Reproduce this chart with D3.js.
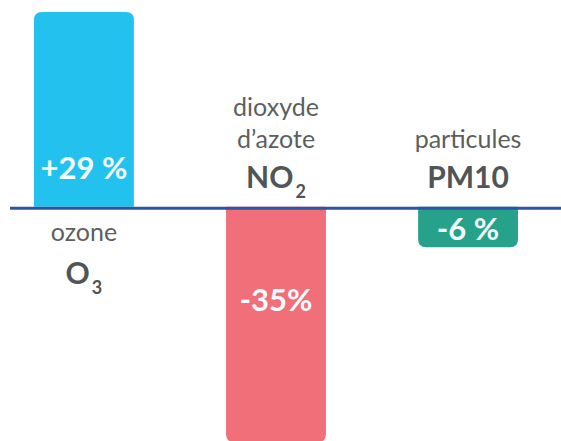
<!DOCTYPE html>
<html>
<head>
<meta charset="utf-8">
<script src="https://cdn.jsdelivr.net/npm/d3@7"></script>
<style>
  body { margin: 0; background: #fff; }
  svg { display: block; font-family: Lato, "Open Sans", sans-serif; }
</style>
</head>
<body>
<div id="chart"></div>
<script>
// Évolution des concentrations de polluants
const polluants = ["O3", "NO2", "PM10"];
const noms = [["ozone"], ["dioxyde", "d\u2019azote"], ["particules"]];
const formules = ["O", "NO", "PM10"];
const indices = ["3", "2", ""];
const variations = [29, -35, -6];
const etiquettes = ["+29 %", "-35%", "-6 %"];
const couleurs = ["#23c1ee", "#f16f78", "#27a28a"];

const width = 561, height = 441;
const r = 8;

let svg = d3.select("#chart").append("svg")
  .attr("width", width)
  .attr("height", height);

let x = d3.scaleBand()
  .domain(polluants)
  .range([-14, 566])
  .paddingInner(0.48)
  .paddingOuter(0.25);

let y = d3.scaleLinear()
  .domain([-35, 29])
  .range([442, 12]);

const y0 = y(0);

// bar with rounded corners only at the free end
function barPath(d, i) {
  let x0 = x(polluants[i]), w = x.bandwidth();
  let yv = y(d);
  if (d >= 0) {
    return `M${x0},${y0} V${yv + r} Q${x0},${yv} ${x0 + r},${yv} H${x0 + w - r} Q${x0 + w},${yv} ${x0 + w},${yv + r} V${y0} Z`;
  }
  return `M${x0},${y0} V${yv - r} Q${x0},${yv} ${x0 + r},${yv} H${x0 + w - r} Q${x0 + w},${yv} ${x0 + w},${yv - r} V${y0} Z`;
}

svg.append("g").selectAll("path")
  .data(variations)
  .enter().append("path")
  .attr("d", barPath)
  .attr("fill", (d, i) => couleurs[i]);

// axe zéro
svg.append("line")
  .attr("x1", 10).attr("x2", width)
  .attr("y1", y0 + 1.5).attr("y2", y0 + 1.5)
  .attr("stroke", "#2c55a4")
  .attr("stroke-width", 3);

// valeurs dans les barres
svg.append("g").selectAll("text")
  .data(variations)
  .enter().append("text")
  .attr("x", (d, i) => x(polluants[i]) + x.bandwidth() / 2)
  .attr("y", d => d >= 0 ? y0 - 28 : Math.min(y0 + 104, y(d) - 7))
  .attr("text-anchor", "middle")
  .attr("fill", "#f2fbfd")
  .style("font-size", "31px")
  .style("font-weight", 700)
  .text((d, i) => etiquettes[i]);

// noms des polluants
polluants.forEach((p, i) => {
  let cx = x(p) + x.bandwidth() / 2;
  let positif = variations[i] >= 0;
  let lignes = noms[i];
  let g = svg.append("g").attr("text-anchor", "middle");

  let yForm = positif ? y0 + 77 : y0 - 19;
  let yNom = positif ? y0 + 34 : y0 - 59;

  lignes.forEach((l, j) => {
    g.append("text")
      .attr("x", cx)
      .attr("y", yNom - (lignes.length - 1 - j) * 32)
      .attr("fill", "#5b5f60")
      .style("font-size", "25px")
      .text(l);
  });

  let t = g.append("text")
    .attr("x", cx)
    .attr("y", yForm)
    .attr("fill", "#505556")
    .style("font-size", "30px")
    .style("font-weight", 700);
  t.append("tspan").text(formules[i]);
  if (indices[i]) {
    t.append("tspan")
      .attr("dy", 10)
      .attr("dx", 2)
      .style("font-size", "18px")
      .text(indices[i]);
  }
});
</script>
</body>
</html>
